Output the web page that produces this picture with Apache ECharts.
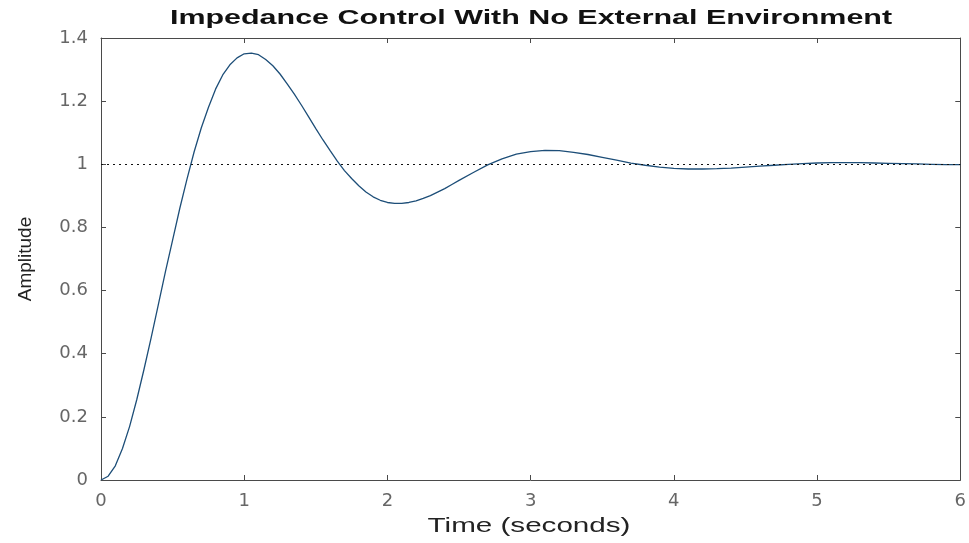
<!DOCTYPE html>
<html>
<head>
<meta charset="utf-8">
<title>Impedance Control With No External Environment</title>
<script src="https://cdn.jsdelivr.net/npm/echarts@6/dist/echarts.min.js"></script>
<style>
  html, body { margin: 0; padding: 0; background: #fff; }
  #chart { width: 969px; height: 543px; }
</style>
</head>
<body>
<div id="chart"></div>
<script>
// step response (denser where it bends most)
const timeValues = [
  0, 0.05, 0.1, 0.15, 0.2, 0.25, 0.3, 0.35, 0.4, 0.45,
  0.5, 0.55, 0.6, 0.65, 0.7, 0.75, 0.8, 0.85, 0.9, 0.95,
  1.0, 1.05, 1.1, 1.15, 1.2, 1.25, 1.3, 1.35, 1.4, 1.45,
  1.5, 1.55, 1.6, 1.65, 1.7, 1.75, 1.8, 1.85, 1.9, 1.95,
  2.0, 2.05, 2.1, 2.15, 2.2, 2.25, 2.3, 2.35, 2.4, 2.45,
  2.5, 2.6, 2.7, 2.8, 2.9,
  3.0, 3.1, 3.2, 3.3, 3.4, 3.5, 3.6, 3.7, 3.8, 3.9,
  4.0, 4.1, 4.2, 4.3, 4.4, 4.5, 4.6, 4.7, 4.8, 4.9,
  5.0, 5.1, 5.2, 5.3, 5.4, 5.5, 5.6, 5.7, 5.8, 5.9,
  6.0
]
const amplitudeValues = [
  0, 0.012, 0.045, 0.1, 0.17, 0.255, 0.35, 0.45, 0.555, 0.66,
  0.76, 0.86, 0.952, 1.039, 1.115, 1.18, 1.238, 1.283, 1.315, 1.337,
  1.35, 1.352, 1.347, 1.332, 1.312, 1.286, 1.255, 1.222, 1.187, 1.15,
  1.113, 1.077, 1.043, 1.01, 0.98, 0.955, 0.932, 0.912, 0.897, 0.886,
  0.879, 0.876, 0.876, 0.879, 0.884, 0.892, 0.901, 0.912, 0.923, 0.936,
  0.949, 0.974, 0.998, 1.017, 1.032,
  1.04, 1.044, 1.043, 1.038, 1.031, 1.022, 1.013, 1.004, 0.997, 0.991,
  0.987, 0.985, 0.985, 0.986, 0.988, 0.991, 0.994, 0.997, 1.0, 1.002,
  1.004, 1.005, 1.005, 1.005, 1.004, 1.003, 1.002, 1.001, 1.0, 0.999,
  0.999
]
// reference level
const finalValue = 1

const xTicks = { min: 0, max: 6, interval: 1 }
const yTicks = { min: 0, max: 1.4, interval: 0.2 }

const axisGray = '#4a4a4a'
const labelGray = '#666'

const chart = echarts.init(document.getElementById('chart'))

const points = timeValues.map((t, i) => [t, amplitudeValues[i]])

// box axes (top / right) only draw the frame and ticks
const frameAxis = {
  axisLine: { show: true, onZero: false, lineStyle: { color: axisGray, width: 1 } },
  axisTick: { show: true, inside: true, length: 5, lineStyle: { color: axisGray } },
  axisLabel: { show: false },
  splitLine: { show: false },
}

const option = {
  backgroundColor: '#fff',
  animation: false,
  grid: {
    left: 101,
    right: 8,
    top: 38,
    bottom: 63,
  },
  graphic: [
    {
      type: 'text',
      x: 531,
      y: 18,
      scaleX: 1.45,
      style: {
        text: 'Impedance Control With No External Environment',
        fill: '#111',
        font: 'bold 21px "Liberation Sans", Arial, sans-serif',
        align: 'center',
        verticalAlign: 'middle',
      },
    },
    {
      type: 'text',
      x: 529,
      y: 526,
      scaleX: 1.48,
      style: {
        text: 'Time (seconds)',
        fill: '#222',
        font: '20px "Liberation Sans", Arial, sans-serif',
        align: 'center',
        verticalAlign: 'middle',
      },
    },
  ],
  xAxis: [
    {
      type: 'value',
      position: 'bottom',
      min: xTicks.min,
      max: xTicks.max,
      interval: xTicks.interval,
      axisLine: { show: true, onZero: false, lineStyle: { color: axisGray, width: 1 } },
      axisTick: { show: true, inside: true, length: 5, lineStyle: { color: axisGray } },
      axisLabel: {
        color: labelGray,
        fontFamily: 'DejaVu Sans',
        fontSize: 18,
        margin: 12,
      },
      splitLine: { show: false },
    },
    Object.assign({
      type: 'value',
      position: 'top',
      min: xTicks.min,
      max: xTicks.max,
      interval: xTicks.interval,
    }, frameAxis),
  ],
  yAxis: [
    {
      type: 'value',
      position: 'left',
      min: yTicks.min,
      max: yTicks.max,
      interval: yTicks.interval,
      name: 'Amplitude',
      nameLocation: 'middle',
      nameGap: 66,
      nameRotate: 90,
      nameTextStyle: {
        color: '#222',
        fontFamily: 'Liberation Sans',
        fontSize: 19,
      },
      axisLine: { show: true, onZero: false, lineStyle: { color: axisGray, width: 1 } },
      axisTick: { show: true, inside: true, length: 5, lineStyle: { color: axisGray } },
      axisLabel: {
        color: labelGray,
        fontFamily: 'DejaVu Sans',
        fontSize: 18,
        margin: 13,
      },
      splitLine: { show: false },
    },
    Object.assign({
      type: 'value',
      position: 'right',
      min: yTicks.min,
      max: yTicks.max,
      interval: yTicks.interval,
    }, frameAxis),
  ],
  series: [
    {
      type: 'line',
      name: 'Amplitude',
      data: points,
      xAxisIndex: 0,
      yAxisIndex: 0,
      showSymbol: false,
      lineStyle: { color: '#1d4e78', width: 1.3 },
      markLine: {
        silent: true,
        symbol: 'none',
        label: { show: false },
        lineStyle: { color: '#111', width: 1, type: [2, 4] },
        data: [{ yAxis: finalValue }],
      },
    },
  ],
}

option && chart.setOption(option)
</script>
</body>
</html>
